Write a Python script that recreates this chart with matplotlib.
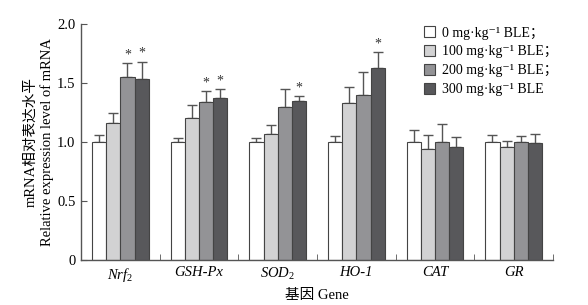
import matplotlib
matplotlib.use("Agg")
import matplotlib.pyplot as plt
import numpy as np
from matplotlib.patches import Patch

plt.rcParams['font.family'] = ['Liberation Serif', 'DejaVu Serif', 'Noto Sans CJK SC']
plt.rcParams['mathtext.fontset'] = 'custom'
plt.rcParams['mathtext.rm'] = 'Liberation Serif'
plt.rcParams['mathtext.it'] = 'Liberation Serif:italic'

genes = [r'$\mathit{Nrf}_{2}$', 'GSH-Px', r'$\mathit{SOD}_{2}$', 'HO-1', 'CAT', 'GR']
series_labels = ['0 mg·kg⁻¹ BLE；', '100 mg·kg⁻¹ BLE；',
                 '200 mg·kg⁻¹ BLE；', '300 mg·kg⁻¹ BLE']
dose0 = [1.00, 1.00, 1.00, 1.00, 1.00, 1.00]
dose100 = [1.16, 1.20, 1.07, 1.33, 0.94, 0.96]
dose200 = [1.55, 1.34, 1.30, 1.40, 1.00, 1.00]
dose300 = [1.53, 1.37, 1.35, 1.63, 0.96, 0.99]
err0 = [0.06, 0.03, 0.03, 0.05, 0.10, 0.06]
err100 = [0.09, 0.11, 0.07, 0.14, 0.12, 0.05]
err200 = [0.12, 0.09, 0.15, 0.19, 0.15, 0.05]
err300 = [0.15, 0.08, 0.04, 0.13, 0.08, 0.075]
sig200 = [True, True, False, False, False, False]
sig300 = [True, True, True, True, False, False]

colors = ['#ffffff', '#d2d2d3', '#939396', '#58585b']
values = [dose0, dose100, dose200, dose300]
errs = [err0, err100, err200, err300]
sigs = [[False]*6, [False]*6, sig200, sig300]

fig = plt.figure(figsize=(5.88, 3.05), dpi=100)
ax = fig.add_axes([0.1378, 0.1475, 0.8027, 0.7738])

x = np.arange(len(genes))
w = 0.18
for i in range(4):
    pos = x + (i - 1.5) * w
    ax.bar(pos, values[i], width=w, color=colors[i], edgecolor='#444444', linewidth=0.8, zorder=2)
    ax.errorbar(pos, values[i], yerr=[np.zeros(6), errs[i]], fmt='none',
                ecolor='#555555', elinewidth=1.0, capsize=3.5, capthick=1.0, zorder=1)
    for j in range(6):
        if sigs[i][j]:
            ax.text(pos[j], values[i][j] + errs[i][j] + 0.015, '*', ha='center', va='bottom',
                    fontsize=10, color='#333333')

ax.set_xlim(-0.5, 5.5)
ax.set_ylim(0, 2.0)
ax.set_yticks([0, 0.5, 1.0, 1.5, 2.0])
ax.set_yticklabels(['0', '0.5', '1.0', '1.5', '2.0'], fontsize=10.5)
ax.set_xticks(x)
ax.set_xticklabels(genes, fontsize=10.5, style='italic')
ax.tick_params(axis='x', length=0, pad=4)
ax.set_xticks(np.arange(-0.5, 6.0, 1.0), minor=True)
ax.tick_params(axis='x', which='minor', direction='in', length=4, color='#555555')
ax.tick_params(axis='y', direction='in', length=4, color='#555555', pad=4)
for s in ['top', 'right']:
    ax.spines[s].set_visible(False)
for s in ['left', 'bottom']:
    ax.spines[s].set_color('#555555')
    ax.spines[s].set_linewidth(1.0)

ax.set_xlabel('基因 Gene', fontsize=10.5, labelpad=4)
ycen = 1 - 142 / 305
fig.text(31 / 588, ycen, 'mRNA相对表达水平', rotation=90, ha='center', va='center', fontsize=10.5)
fig.text(47 / 588, ycen, 'Relative expression level of mRNA', rotation=90, ha='center',
         va='center', fontsize=10.5)

handles = [Patch(facecolor=colors[i], edgecolor='#444444', linewidth=0.8) for i in range(4)]
ax.legend(handles, series_labels, loc='upper left', bbox_to_anchor=(0.727, 0.99),
          frameon=False, fontsize=10, handlelength=0.8, handleheight=0.8,
          handletextpad=0.5, labelspacing=0.42, borderpad=0, borderaxespad=0)

fig.savefig('out.png', dpi=100)
